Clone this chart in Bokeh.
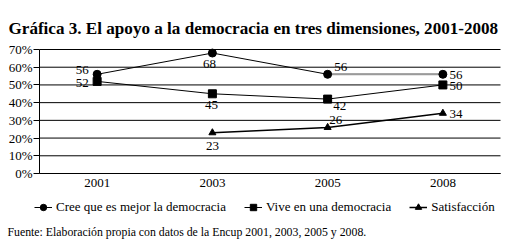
from bokeh.plotting import figure
from bokeh.models import (ColumnDataSource, Label, Legend, LegendItem, FixedTicker,
                          Range1d, LinearAxis)
from bokeh.embed import file_html
from bokeh.resources import INLINE
from bokeh.core.properties import value

# ---------------- data ----------------
title_text = "Gráfica 3. El apoyo a la democracia en tres dimensiones, 2001-2008"
source_text = "Fuente: Elaboración propia con datos de la Encup 2001, 2003, 2005 y 2008."
years = ["2001", "2003", "2005", "2008"]
cree_values = [56, 68, 56, 56]
vive_values = [52, 45, 42, 50]
sat_years = ["2003", "2005", "2008"]
sat_values = [23, 26, 34]
series_names = ["Cree que es mejor la democracia", "Vive en una democracia", "Satisfacción"]
y_ticks = [0, 10, 20, 30, 40, 50, 60, 70]
y_tick_labels = ["0%", "10%", "20%", "30%", "40%", "50%", "60%", "70%"]

# ---------------- styles (label offsets in px) ----------------
cree_dx = [-15, -3, 13, 13]
cree_dy = [-4, 11, -7, 1]
vive_dx = [-15, -1, 12, 13]
vive_dy = [2, 11, 7, 1]
sat_dx = [0, 8, 13]
sat_dy = [13, -7, 1]

SERIF = "Liberation Serif"
FS = "13px"

# ---------------- geometry (canvas px) ----------------
W, H = 509, 240
PLOT_L, PLOT_R, PLOT_T, PLOT_B = 39, 500, 49, 173
ncat = len(years)
unit = (PLOT_R - PLOT_L) / ncat
x_start = -0.5 - PLOT_L / unit
x_end = ncat - 0.5 + (W - PLOT_R) / unit
ymax = y_ticks[-1]
ypx = (PLOT_B - PLOT_T) / ymax
y_start = -(H - PLOT_B) / ypx
y_end = ymax + PLOT_T / ypx

xi = {y: i for i, y in enumerate(years)}

p = figure(width=W, height=H,
           x_range=Range1d(x_start, x_end), y_range=Range1d(y_start, y_end),
           output_backend="svg", toolbar_location=None,
           x_axis_location=None, y_axis_location=None, min_border=0)
p.title = None
p.outline_line_color = None
p.background_fill_color = "white"
p.border_fill_color = "white"
p.xgrid.grid_line_color = None
p.ygrid.grid_line_color = None

# horizontal grid lines spanning the category area
p.segment(x0=[-0.5] * len(y_ticks), x1=[ncat - 0.5] * len(y_ticks),
          y0=y_ticks, y1=y_ticks, line_color="black", line_width=1)

yax = LinearAxis(fixed_location=-0.5, bounds=(0, ymax),
                 ticker=FixedTicker(ticks=y_ticks),
                 major_label_overrides={t: l for t, l in zip(y_ticks, y_tick_labels)},
                 major_tick_out=6, major_tick_in=0, minor_tick_line_color=None,
                 axis_line_color="black", major_tick_line_color="black",
                 major_label_standoff=1, major_label_text_font=SERIF,
                 major_label_text_font_size=FS, major_label_text_color="black")
p.add_layout(yax, "left")

xax = LinearAxis(fixed_location=0, bounds=(-0.5, ncat - 0.5),
                 ticker=FixedTicker(ticks=list(range(ncat))),
                 major_label_overrides={i: y for i, y in enumerate(years)},
                 major_tick_out=0, major_tick_in=0, minor_tick_line_color=None,
                 major_tick_line_color=None, axis_line_color="black",
                 major_label_standoff=5, major_label_text_font=SERIF,
                 major_label_text_font_size=FS, major_label_text_color="black")
p.add_layout(xax, "below")

# series
src_cree = ColumnDataSource(dict(x=[xi[y] for y in years], y=cree_values,
                                 t=[str(v) for v in cree_values], dx=cree_dx, dy=cree_dy))
src_vive = ColumnDataSource(dict(x=[xi[y] for y in years], y=vive_values,
                                 t=[str(v) for v in vive_values], dx=vive_dx, dy=vive_dy))
src_sat = ColumnDataSource(dict(x=[xi[y] for y in sat_years], y=sat_values,
                                t=[str(v) for v in sat_values], dx=sat_dx, dy=sat_dy))

r_cree_l = p.line("x", "y", source=src_cree, line_color="black", line_width=1)
p.line(x=[xi[y] for y in years[2:]], y=cree_values[2:], line_color="#9a9a9a", line_width=2)
r_cree_m = p.scatter("x", "y", source=src_cree, marker="circle", size=8, color="black")

r_vive_l = p.line("x", "y", source=src_vive, line_color="black", line_width=1)
r_vive_m = p.scatter("x", "y", source=src_vive, marker="square", size=8, color="black")

r_sat_l = p.line("x", "y", source=src_sat, line_color="black", line_width=1.5)
r_sat_m = p.scatter("x", "y", source=src_sat, marker="triangle", size=7, color="black")

for src in (src_cree, src_vive, src_sat):
    p.text("x", "y", text="t", x_offset="dx", y_offset="dy", source=src,
           text_font=value(SERIF), text_font_size=FS, text_color="black",
           text_align="center", text_baseline="middle")

legend = Legend(items=[
    LegendItem(label=series_names[0], renderers=[r_cree_l, r_cree_m]),
    LegendItem(label=series_names[1], renderers=[r_vive_l, r_vive_m]),
    LegendItem(label=series_names[2], renderers=[r_sat_l, r_sat_m]),
], orientation="horizontal", location=(34, 25),
    border_line_color=None, background_fill_alpha=0,
    label_text_font=SERIF, label_text_font_size=FS, label_text_color="black",
    glyph_width=18, glyph_height=16, label_height=16, label_standoff=4,
    spacing=18, padding=0, margin=0)
p.add_layout(legend, "center")

p.add_layout(Label(x=8, y=H - 28, x_units="screen", y_units="screen", text=title_text,
                   text_font=SERIF, text_font_style="bold", text_font_size="17.1px",
                   text_baseline="alphabetic", text_color="black"))
p.add_layout(Label(x=7, y=H - 231.5, x_units="screen", y_units="screen", text=source_text,
                   text_font=SERIF, text_font_size="11.8px",
                   text_baseline="alphabetic", text_color="black"))

open("out.html", "w").write(file_html(p, INLINE))
